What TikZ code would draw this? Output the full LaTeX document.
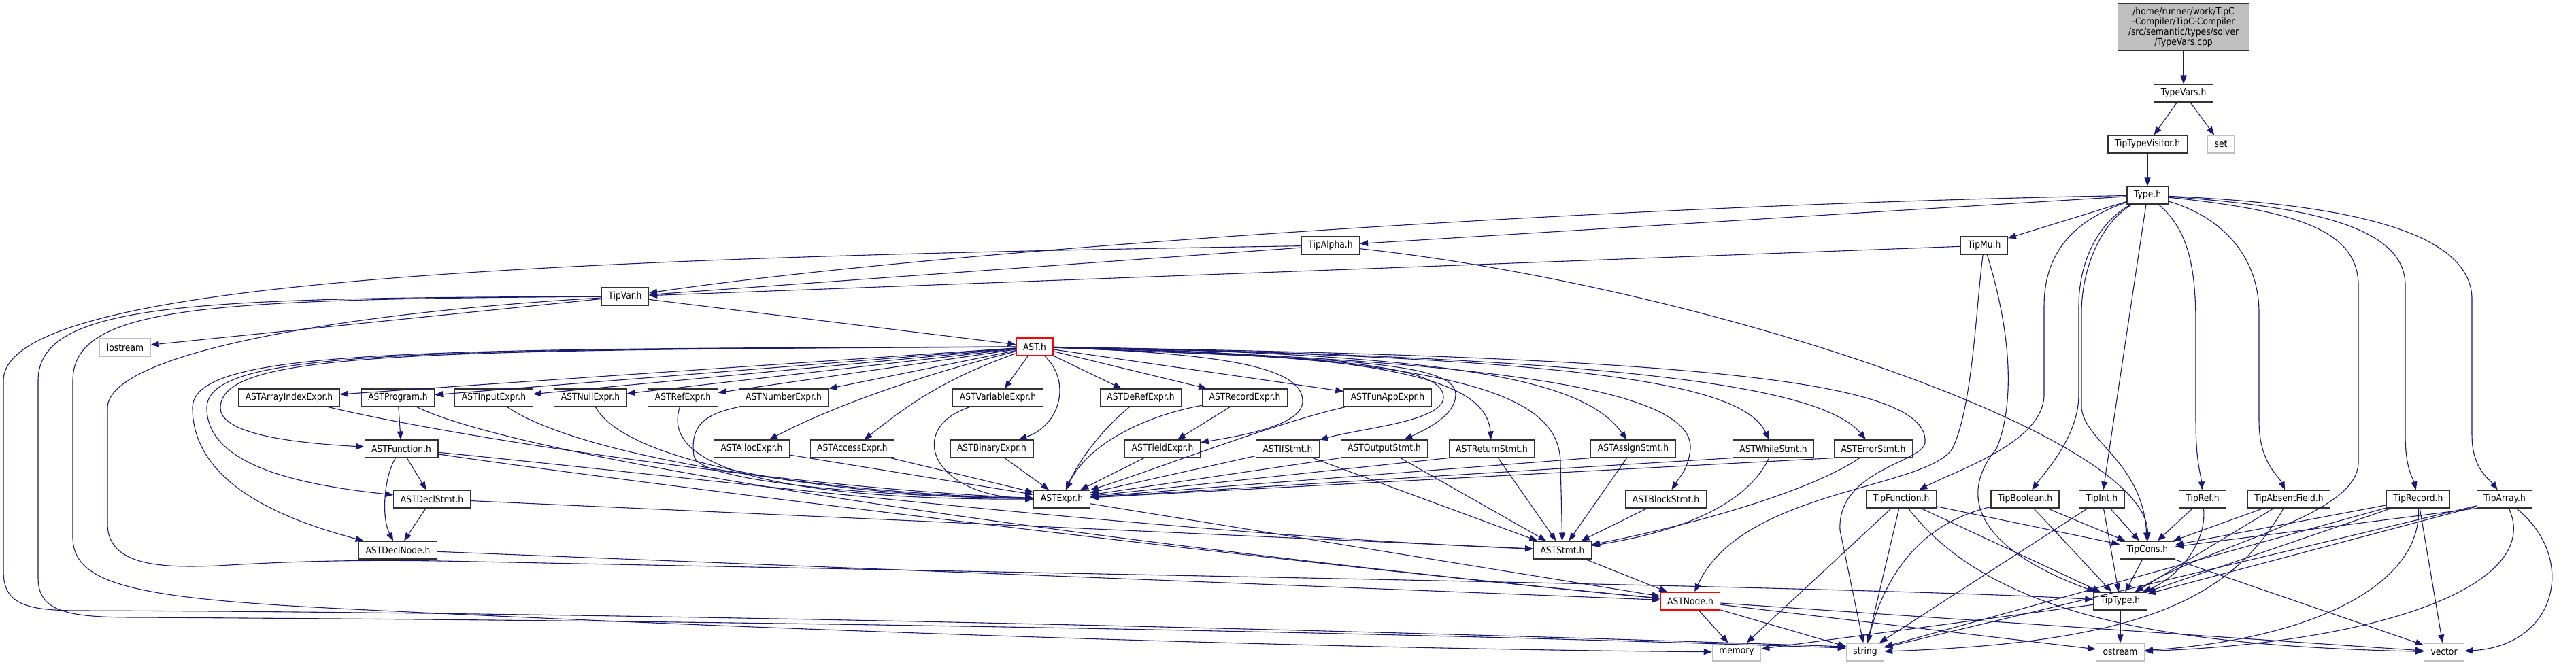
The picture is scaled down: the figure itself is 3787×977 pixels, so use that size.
\documentclass[tikz,border=0pt]{standalone}
\usepackage{fontspec}
\setmainfont{DejaVu Sans}[FakeStretch=0.88]
\usetikzlibrary{arrows.meta}
\definecolor{edgeblue}{RGB}{25,25,112}
\definecolor{boxgray}{RGB}{191,191,191}
\definecolor{boxedge}{RGB}{50,50,50}

\begin{document}
\begin{tikzpicture}[
    x=1pt, y=-1pt,
    hdr/.style={
        draw=boxedge,
        fill=white,
        line width=1.1pt,
        minimum height=26pt,
        inner xsep=10pt,
        inner ysep=0pt,
        font=\fontsize{14}{16}\selectfont
      },
    sys/.style={hdr, draw=boxgray},
    trunc/.style={hdr, draw=red},
    root/.style={hdr, fill=boxgray, align=center, minimum width=193pt, minimum height=69pt, font=\fontsize{14}{15}\selectfont},
    arr/.style={-{Triangle[length=12pt,width=9pt]}, edgeblue, line width=1.1pt}
  ]
  \useasboundingbox (0,0) rectangle (3787,977);

  \node[root] (cpp) at (3210,40) {/home/runner/work/TipC\\-Compiler/TipC-Compiler\\/src/semantic/types/solver\\/TypeVars.cpp};
  \node[hdr] (typevars_h) at (3210,137) {TypeVars.h};
  \node[hdr] (tiptypevisitor_h) at (3157,212) {TipTypeVisitor.h};
  \node[sys] (set) at (3265,212) {set};
  \node[hdr] (type_h) at (3157,287) {Type.h};
  \node[hdr] (tipalpha_h) at (1956,361) {TipAlpha.h};
  \node[hdr] (tipmu_h) at (2917,361) {TipMu.h};
  \node[hdr] (tipvar_h) at (919,436) {TipVar.h};
  \node[sys] (iostream) at (184,511) {iostream};
  \node[trunc] (ast_h) at (1521,510) {AST.h};

  \node[hdr] (astarrayindexexpr_h) at (425,585) {ASTArrayIndexExpr.h};
  \node[hdr] (astprogram_h) at (585,585) {ASTProgram.h};
  \node[hdr] (astinputexpr_h) at (726,585) {ASTInputExpr.h};
  \node[hdr] (astnullexpr_h) at (868,585) {ASTNullExpr.h};
  \node[hdr] (astrefexpr_h) at (1004,585) {ASTRefExpr.h};
  \node[hdr] (astnumberexpr_h) at (1152,585) {ASTNumberExpr.h};
  \node[hdr] (astvariableexpr_h) at (1467,585) {ASTVariableExpr.h};
  \node[hdr] (astderefexpr_h) at (1677,585) {ASTDeRefExpr.h};
  \node[hdr] (astrecordexpr_h) at (1830,585) {ASTRecordExpr.h};
  \node[hdr] (astfunappexpr_h) at (2040,585) {ASTFunAppExpr.h};

  \node[hdr] (astfunction_h) at (590,660) {ASTFunction.h};
  \node[hdr] (astallocexpr_h) at (1105,660) {ASTAllocExpr.h};
  \node[hdr] (astaccessexpr_h) at (1253,660) {ASTAccessExpr.h};
  \node[hdr] (astbinaryexpr_h) at (1458,660) {ASTBinaryExpr.h};
  \node[hdr] (astfieldexpr_h) at (1709,660) {ASTFieldExpr.h};
  \node[hdr] (astifstmt_h) at (1893,660) {ASTIfStmt.h};
  \node[hdr] (astoutputstmt_h) at (2035,660) {ASTOutputStmt.h};
  \node[hdr] (astreturnstmt_h) at (2193,660) {ASTReturnStmt.h};
  \node[hdr] (astassignstmt_h) at (2401,660) {ASTAssignStmt.h};
  \node[hdr] (astwhilestmt_h) at (2607,660) {ASTWhileStmt.h};
  \node[hdr] (asterrorstmt_h) at (2754,660) {ASTErrorStmt.h};

  \node[hdr] (astdeclstmt_h) at (635,734) {ASTDeclStmt.h};
  \node[hdr] (astexpr_h) at (1561,734) {ASTExpr.h};
  \node[hdr] (astblockstmt_h) at (2449,734) {ASTBlockStmt.h};
  \node[hdr] (tipfunction_h) at (2795,734) {TipFunction.h};
  \node[hdr] (tipboolean_h) at (2977,734) {TipBoolean.h};
  \node[hdr] (tipint_h) at (3090,734) {TipInt.h};
  \node[hdr] (tipref_h) at (3238,734) {TipRef.h};
  \node[hdr] (tipabsentfield_h) at (3365,734) {TipAbsentField.h};
  \node[hdr] (tiprecord_h) at (3555,734) {TipRecord.h};
  \node[hdr] (tiparray_h) at (3682,734) {TipArray.h};

  \node[hdr] (astdeclnode_h) at (585,809) {ASTDeclNode.h};
  \node[hdr] (aststmt_h) at (2297,809) {ASTStmt.h};
  \node[hdr] (tipcons_h) at (3157,809) {TipCons.h};
  \node[trunc] (astnode_h) at (2485,884) {ASTNode.h};
  \node[hdr] (tiptype_h) at (3117,884) {TipType.h};
  \node[sys] (memory) at (2553,959) {memory};
  \node[sys] (string) at (2742,959) {string};
  \node[sys] (ostream) at (3117,959) {ostream};
  \node[sys] (vector) at (3593,959) {vector};

  \draw[arr] (cpp) -- (typevars_h);
  \draw[arr] (typevars_h) -- (tiptypevisitor_h);
  \draw[arr] (typevars_h) -- (set);
  \draw[arr] (tiptypevisitor_h) -- (type_h);

  \draw[arr] (type_h) -- (tipalpha_h);
  \draw[arr] (type_h) .. controls (2400,300) and (1400,365) .. (tipvar_h);
  \draw[arr] (type_h) -- (tipmu_h);
  \draw[arr] (type_h) .. controls (3030,330) and (3005,390) .. (3005,450) -- (3005,580) .. controls (3005,650) and (2880,690) .. (tipfunction_h);
  \draw[arr] (type_h) .. controls (3080,330) and (3056,390) .. (3056,450) -- (3056,580) .. controls (3056,640) and (3010,690) .. (tipboolean_h);
  \draw[arr] (type_h) .. controls (3085,330) and (3060,400) .. (3060,460) -- (3060,600) .. controls (3065,650) and (3150,680) .. (tipcons_h);
  \draw[arr] (type_h) -- (tipint_h);
  \draw[arr] (type_h) .. controls (3220,340) and (3228,400) .. (3228,480) -- (3228,620) .. controls (3228,680) and (3236,700) .. (tipref_h);
  \draw[arr] (type_h) .. controls (3270,320) and (3321,380) .. (3321,460) -- (3321,620) .. controls (3321,680) and (3350,700) .. (tipabsentfield_h);
  \draw[arr] (type_h) .. controls (3380,310) and (3467,340) .. (3467,420) -- (3467,680) .. controls (3467,760) and (3250,800) .. (tiptype_h);
  \draw[arr] (type_h) .. controls (3420,305) and (3536,340) .. (3536,420) -- (3536,640) .. controls (3536,690) and (3548,705) .. (tiprecord_h);
  \draw[arr] (type_h) .. controls (3450,300) and (3634,340) .. (3634,440) -- (3634,640) .. controls (3634,690) and (3660,705) .. (tiparray_h);

  \draw[arr] (tipalpha_h) -- (tipvar_h);
  \draw[arr] (tipalpha_h) .. controls (2500,420) and (3160,640) .. (tipcons_h.north);
  \draw[arr] (tipalpha_h) .. controls (700,380) and (5,420) .. (5,560) -- (5,840) .. controls (5,890) and (40,898) .. (120,898) .. controls (800,900) and (1800,920) .. ([yshift=8pt]string.west);

  \draw[arr] (tipmu_h) -- (tipvar_h);
  \draw[arr] (tipmu_h) .. controls (2905,450) and (2900,600) .. (2870,660) .. controls (2830,720) and (2560,720) .. (astnode_h);
  \draw[arr] (tipmu_h) .. controls (2960,500) and (2960,600) .. (2935,660) .. controls (2885,720) and (2890,800) .. (tiptype_h);

  \draw[arr] (tipvar_h) -- (iostream);
  \draw[arr] (tipvar_h) -- (ast_h);
  \draw[arr] (tipvar_h) .. controls (280,438) and (56,445) .. (56,560) -- (56,850) .. controls (56,900) and (100,908) .. (200,908) .. controls (900,912) and (1800,922) .. ([yshift=6pt]string.west);
  \draw[arr] (tipvar_h) .. controls (300,440) and (107,450) .. (107,560) -- (107,790) .. controls (107,860) and (200,880) .. (500,895) .. controls (1200,930) and (2000,955) .. (memory);
  \draw[arr] (tipvar_h) .. controls (500,460) and (158,520) .. (158,600) -- (158,770) .. controls (158,830) and (230,836) .. (320,832) .. controls (420,826) and (520,822) .. (700,826) .. controls (1800,848) and (2800,865) .. (tiptype_h);

  \draw[arr] (ast_h) -- (astarrayindexexpr_h);
  \draw[arr] (ast_h) -- (astprogram_h);
  \draw[arr] (ast_h) -- (astinputexpr_h);
  \draw[arr] (ast_h) -- (astnullexpr_h);
  \draw[arr] (ast_h) -- (astrefexpr_h);
  \draw[arr] (ast_h) -- (astnumberexpr_h);
  \draw[arr] (ast_h) -- (astvariableexpr_h);
  \draw[arr] (ast_h) -- (astderefexpr_h);
  \draw[arr] (ast_h) -- (astrecordexpr_h);
  \draw[arr] (ast_h) -- (astfunappexpr_h);
  \draw[arr] (ast_h) .. controls (1320,560) and (1200,610) .. (astallocexpr_h);
  \draw[arr] (ast_h) .. controls (1380,560) and (1330,600) .. (astaccessexpr_h);
  \draw[arr] (ast_h) .. controls (1575,560) and (1560,625) .. (astbinaryexpr_h);
  \draw[arr] (ast_h) .. controls (1800,520) and (1915,540) .. (1915,590) .. controls (1915,625) and (1830,640) .. (astfieldexpr_h);
  \draw[arr] (ast_h) .. controls (1900,525) and (2125,530) .. (2122,585) .. controls (2120,620) and (2000,630) .. (astifstmt_h);
  \draw[arr] (ast_h) .. controls (1950,528) and (2140,530) .. (2140,580) .. controls (2140,610) and (2100,630) .. (astoutputstmt_h);
  \draw[arr] (ast_h) .. controls (2050,520) and (2185,560) .. (astreturnstmt_h);
  \draw[arr] (ast_h) .. controls (2150,520) and (2330,560) .. (astassignstmt_h);
  \draw[arr] (ast_h) .. controls (2300,525) and (2560,560) .. (astwhilestmt_h);
  \draw[arr] (ast_h) .. controls (2400,525) and (2680,570) .. (asterrorstmt_h);
  \draw[arr] (ast_h) .. controls (2250,530) and (2490,580) .. (2485,660) .. controls (2482,690) and (2470,700) .. (astblockstmt_h);
  \draw[arr] (ast_h) .. controls (2150,525) and (2292,580) .. (2294,680) -- (aststmt_h);
  \draw[arr] (ast_h) .. controls (2500,525) and (2835,560) .. (2830,650) .. controls (2830,680) and (2700,690) .. (2705,780) -- (string);
  \draw[arr] (ast_h) .. controls (600,515) and (324,518) .. (324,600) .. controls (324,640) and (440,652) .. (astfunction_h);
  \draw[arr] (ast_h) .. controls (600,514) and (304,516) .. (304,600) .. controls (304,690) and (460,715) .. (astdeclstmt_h);
  \draw[arr] (ast_h) .. controls (600,513) and (283,514) .. (283,600) .. controls (283,720) and (440,770) .. (astdeclnode_h);

  \draw[arr] (astarrayindexexpr_h) .. controls (700,650) and (1200,720) .. (astexpr_h);
  \draw[arr] (astprogram_h) -- (astfunction_h);
  \draw[arr] (astprogram_h) .. controls (800,690) and (1800,820) .. (astnode_h);
  \draw[arr] (astinputexpr_h) .. controls (850,670) and (1200,725) .. (astexpr_h);
  \draw[arr] (astnullexpr_h) .. controls (920,680) and (1200,728) .. (astexpr_h);
  \draw[arr] (astrefexpr_h) .. controls (965,700) and (1200,735) .. (astexpr_h);
  \draw[arr] (astnumberexpr_h) .. controls (1030,610) and (1015,630) .. (1020,670) .. controls (1025,710) and (1300,730) .. (astexpr_h);
  \draw[arr] (astvariableexpr_h) .. controls (1330,630) and (1370,730) .. (astexpr_h);
  \draw[arr] (astderefexpr_h) .. controls (1610,640) and (1580,690) .. (astexpr_h);
  \draw[arr] (astrecordexpr_h) .. controls (1690,610) and (1600,650) .. (astexpr_h);
  \draw[arr] (astrecordexpr_h) -- (astfieldexpr_h);
  \draw[arr] (astfunappexpr_h) .. controls (1880,620) and (1700,690) .. (astexpr_h);

  \draw[arr] (astallocexpr_h) -- (astexpr_h);
  \draw[arr] (astaccessexpr_h) -- (astexpr_h);
  \draw[arr] (astbinaryexpr_h) -- (astexpr_h);
  \draw[arr] (astfieldexpr_h) -- (astexpr_h);
  \draw[arr] (astifstmt_h) -- (astexpr_h);
  \draw[arr] (astoutputstmt_h.south west) -- (astexpr_h);
  \draw[arr] (astreturnstmt_h.south west) -- (astexpr_h);
  \draw[arr] (astassignstmt_h.south west) -- (astexpr_h);
  \draw[arr] (astwhilestmt_h.south west) -- (astexpr_h);
  \draw[arr] (asterrorstmt_h.south west) -- (astexpr_h);

  \draw[arr] (astifstmt_h) -- (aststmt_h);
  \draw[arr] (astoutputstmt_h) -- (aststmt_h);
  \draw[arr] (astreturnstmt_h) -- (aststmt_h);
  \draw[arr] (astassignstmt_h) -- (aststmt_h);
  \draw[arr] (astwhilestmt_h) .. controls (2560,760) and (2420,790) .. (aststmt_h);
  \draw[arr] (asterrorstmt_h) .. controls (2650,730) and (2450,780) .. (aststmt_h);
  \draw[arr] (astblockstmt_h) -- (aststmt_h);

  \draw[arr] (astfunction_h) -- (astdeclstmt_h);
  \draw[arr] (astfunction_h) .. controls (565,700) and (560,760) .. (astdeclnode_h);
  \draw[arr] (astfunction_h) .. controls (1000,700) and (1700,785) .. (aststmt_h);
  \draw[arr] (astfunction_h) .. controls (1000,720) and (2000,840) .. (astnode_h);
  \draw[arr] (astdeclstmt_h) -- (astdeclnode_h);
  \draw[arr] (astdeclstmt_h) -- (aststmt_h);
  \draw[arr] (astdeclnode_h) -- (astnode_h);
  \draw[arr] (astexpr_h) -- (astnode_h);
  \draw[arr] (aststmt_h) -- (astnode_h);

  \draw[arr] (astnode_h) -- (memory);
  \draw[arr] (astnode_h) -- (string);
  \draw[arr] (astnode_h) -- (ostream);
  \draw[arr] (astnode_h) -- (vector);

  \draw[arr] (tipfunction_h) -- (tipcons_h);
  \draw[arr] (tipfunction_h) -- (tiptype_h);
  \draw[arr] (tipfunction_h) -- (memory);
  \draw[arr] (tipfunction_h) -- (string);
  \draw[arr] (tipfunction_h) .. controls (2930,910) and (3200,950) .. (vector);
  \draw[arr] (tipboolean_h) -- (tipcons_h);
  \draw[arr] (tipboolean_h) -- (tiptype_h);
  \draw[arr] (tipboolean_h) .. controls (2820,770) and (2770,850) .. (string);
  \draw[arr] (tipint_h) -- (tipcons_h);
  \draw[arr] (tipint_h) -- (tiptype_h);
  \draw[arr] (tipint_h) -- (string);
  \draw[arr] (tipref_h) -- (tipcons_h);
  \draw[arr] (tipref_h) .. controls (3245,800) and (3200,850) .. (tiptype_h);
  \draw[arr] (tipabsentfield_h) -- (tipcons_h);
  \draw[arr] (tipabsentfield_h) -- (tiptype_h);
  \draw[arr] (tipabsentfield_h) .. controls (3280,880) and (3150,945) .. (string);
  \draw[arr] (tiprecord_h) -- (tipcons_h);
  \draw[arr] (tiprecord_h) -- (tiptype_h);
  \draw[arr] (tiprecord_h) -- (string);
  \draw[arr] (tiprecord_h) .. controls (3560,860) and (3400,940) .. (ostream);
  \draw[arr] (tiprecord_h) -- (vector);
  \draw[arr] (tiparray_h.south west) -- (tipcons_h);
  \draw[arr] (tiparray_h) -- (tiptype_h);
  \draw[arr] (tiparray_h) -- (string);
  \draw[arr] (tiparray_h) .. controls (3740,860) and (3500,945) .. (ostream);
  \draw[arr] (tiparray_h) .. controls (3790,820) and (3760,950) .. (vector);
  \draw[arr] (tipcons_h) -- (tiptype_h);
  \draw[arr] (tipcons_h) -- (vector);
  \draw[arr] (tiptype_h) -- (memory);
  \draw[arr] (tiptype_h) -- (ostream);
\end{tikzpicture}
\end{document}
